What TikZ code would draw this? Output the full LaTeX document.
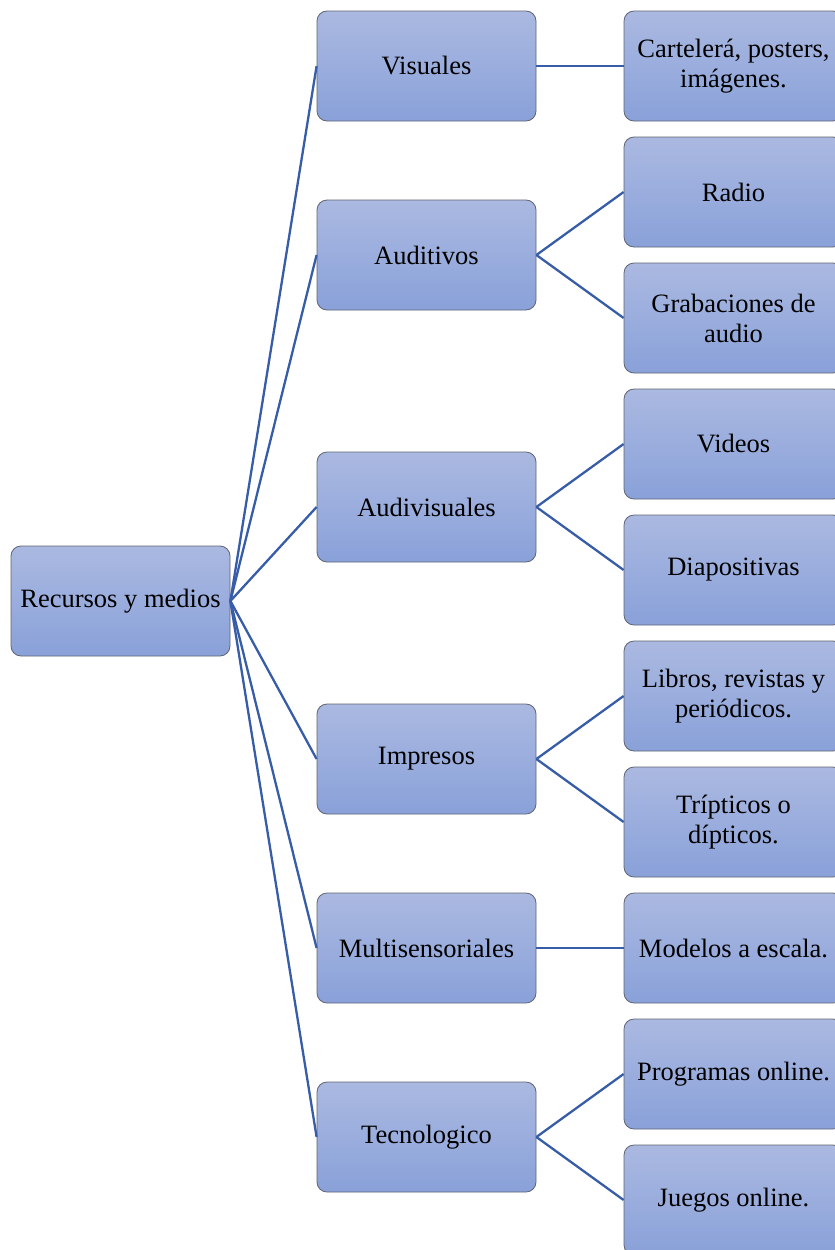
\documentclass[tikz,border=0pt]{standalone}
\usepackage{fontspec}
\setmainfont{Liberation Serif}
\begin{document}
\definecolor{boxtop}{RGB}{171,185,225}
\definecolor{boxbot}{RGB}{137,161,217}
\definecolor{boxline}{RGB}{95,100,115}
\definecolor{linkblue}{RGB}{55,92,168}
\begin{tikzpicture}[x=1pt,y=-1pt,
  box/.style={rectangle, rounded corners=10pt, draw=boxline, line width=0.8pt,
    top color=boxtop, bottom color=boxbot,
    minimum width=219pt, minimum height=110pt, inner sep=0pt,
    align=center, font=\fontsize{26.5}{30}\selectfont},
  link/.style={draw=linkblue, line width=2.3pt}]
\useasboundingbox (0,0) rectangle (835,1250);
\clip (0,0) rectangle (835,1250);

% root
\node[box] (root) at (120.5,601) {Recursos y medios};

% categories
\node[box] (vis) at (426.5,66)   {Visuales};
\node[box] (aud) at (426.5,255)  {Auditivos};
\node[box] (av)  at (426.5,507)  {Audivisuales};
\node[box] (imp) at (426.5,759)  {Impresos};
\node[box] (mul) at (426.5,948)  {Multisensoriales};
\node[box] (tec) at (426.5,1137) {Tecnologico};

% examples
\node[box] (cart) at (733.5,66)   {Cartelerá, posters,\\imágenes.};
\node[box] (rad)  at (733.5,192)  {Radio};
\node[box] (grab) at (733.5,318)  {Grabaciones de\\audio};
\node[box] (vid)  at (733.5,444)  {Videos};
\node[box] (dia)  at (733.5,570)  {Diapositivas};
\node[box] (lib)  at (733.5,696)  {Libros, revistas y\\periódicos.};
\node[box] (trip) at (733.5,822)  {Trípticos o\\dípticos.};
\node[box] (mod)  at (733.5,948)  {Modelos a escala.};
\node[box] (prog) at (733.5,1074) {Programas online.};
\node[box] (jue)  at (733.5,1200) {Juegos online.};

% connectors
\foreach \c in {vis,aud,av,imp,mul,tec}
  \path[link] (root.east) -- (\c.west);
\path[link] (vis.east) -- (cart.west);
\path[link] (aud.east) -- (rad.west);
\path[link] (aud.east) -- (grab.west);
\path[link] (av.east) -- (vid.west);
\path[link] (av.east) -- (dia.west);
\path[link] (imp.east) -- (lib.west);
\path[link] (imp.east) -- (trip.west);
\path[link] (mul.east) -- (mod.west);
\path[link] (tec.east) -- (prog.west);
\path[link] (tec.east) -- (jue.west);
\end{tikzpicture}
\end{document}
